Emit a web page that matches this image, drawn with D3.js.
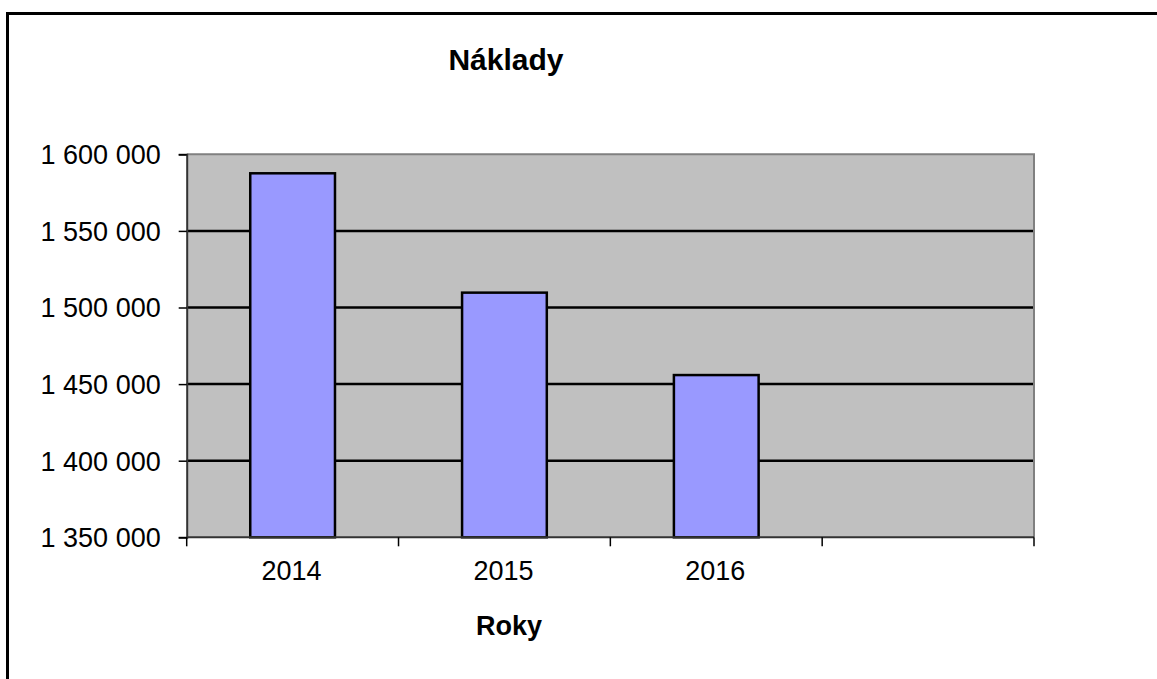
<!DOCTYPE html>
<html>
<head>
<meta charset="utf-8">
<script src="https://cdn.jsdelivr.net/npm/d3@7"></script>
<style>
  html, body { margin: 0; padding: 0; background: #fff; }
  svg { display: block; }
  text { font-family: "Liberation Sans", Arial, sans-serif; fill: #000; }
</style>
</head>
<body>
<svg id="chart" width="1157" height="679"></svg>
<script>
const categories = ["2014", "2015", "2016"];
const slots = ["2014", "2015", "2016", "empty"];
const values = [1587600, 1509700, 1455900];
const yTicks = [1350000, 1400000, 1450000, 1500000, 1550000, 1600000];
const title = "Náklady";
const xTitle = "Roky";

const svg = d3.select("#chart");
const W = 1157, H = 679;
const plot = { left: 186.7, right: 1034, top: 154.3, bottom: 537.3 };

// outer border
svg.append("rect")
  .attr("x", 7.5).attr("y", 13.5)
  .attr("width", W + 20).attr("height", H + 20)
  .attr("fill", "#fff").attr("stroke", "#000").attr("stroke-width", 3);

const x = d3.scaleBand().domain(slots).range([plot.left, plot.right]).paddingInner(0).paddingOuter(0);
const y = d3.scaleLinear().domain([1350000, 1600000]).range([plot.bottom, plot.top]);

// plot background
svg.append("rect")
  .attr("x", plot.left).attr("y", plot.top)
  .attr("width", plot.right - plot.left).attr("height", plot.bottom - plot.top)
  .attr("fill", "#c0c0c0");

// gridlines
svg.append("g").selectAll("line")
  .data(yTicks.filter(d => d > 1350000 && d < 1600000))
  .join("line")
  .attr("x1", plot.left).attr("x2", plot.right)
  .attr("y1", d => y(d)).attr("y2", d => y(d))
  .attr("stroke", "#000").attr("stroke-width", 2.5);

// plot border top & right (gray)
svg.append("path")
  .attr("d", `M${plot.left},${plot.top}H${plot.right}V${plot.bottom}`)
  .attr("fill", "none").attr("stroke", "#808080").attr("stroke-width", 2);

// bars
const barW = x.bandwidth() * 0.40;
svg.append("g").selectAll("rect")
  .data(categories.map((c, i) => ({ c, v: values[i] })))
  .join("rect")
  .attr("x", d => x(d.c) + (x.bandwidth() - barW) / 2)
  .attr("y", d => y(d.v))
  .attr("width", barW)
  .attr("height", d => y(1350000) - y(d.v))
  .attr("fill", "#9999ff")
  .attr("stroke", "#000").attr("stroke-width", 2.5);

// y axis
const yAxis = d3.axisLeft(y).tickValues(yTicks).tickSize(8).tickPadding(10)
  .tickFormat(d => d3.format(",")(d).replace(/,/g, " "));
const gy = svg.append("g").attr("transform", `translate(${plot.left},0)`).call(yAxis);
gy.select(".domain").attr("stroke", "#333").attr("stroke-width", 2);
gy.selectAll(".tick line").attr("stroke", "#000").attr("stroke-width", 1.5);
gy.selectAll(".tick text")
  .attr("font-size", 27).attr("font-family", "Liberation Sans, Arial, sans-serif")
  .attr("fill", "#000").attr("dy", "0.35em").attr("x", -26);

// x axis: line + ticks at band boundaries
svg.append("line")
  .attr("x1", plot.left).attr("x2", plot.right)
  .attr("y1", plot.bottom).attr("y2", plot.bottom)
  .attr("stroke", "#333").attr("stroke-width", 2);
const boundaries = slots.map(s => x(s)).concat([plot.right]);
svg.append("g").selectAll("line")
  .data(boundaries)
  .join("line")
  .attr("x1", d => d).attr("x2", d => d)
  .attr("y1", plot.bottom).attr("y2", plot.bottom + 9)
  .attr("stroke", "#000").attr("stroke-width", 1.5);
svg.append("g").selectAll("text")
  .data(categories)
  .join("text")
  .attr("x", d => x(d) + x.bandwidth() / 2 - 1)
  .attr("y", 579.5)
  .attr("text-anchor", "middle")
  .attr("font-size", 27)
  .text(d => d);

// titles
svg.append("text")
  .attr("x", 506).attr("y", 69.5)
  .attr("text-anchor", "middle")
  .attr("font-size", 30).attr("font-weight", "bold")
  .text(title);
svg.append("text")
  .attr("x", 509).attr("y", 635)
  .attr("text-anchor", "middle")
  .attr("font-size", 27).attr("font-weight", "bold")
  .text(xTitle);
</script>
</body>
</html>
